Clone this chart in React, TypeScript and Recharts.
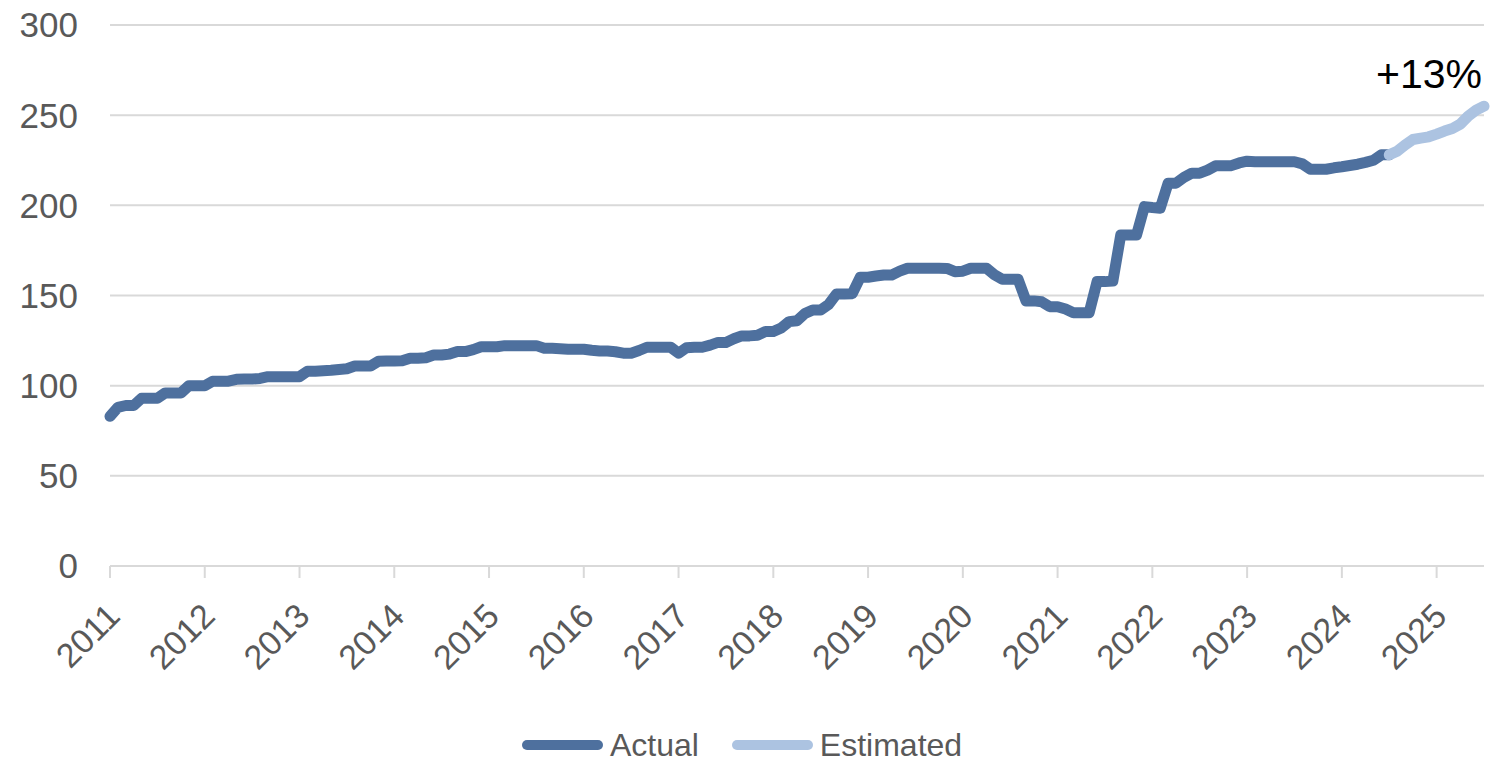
import React from 'react'
import { LineChart, Line, XAxis, YAxis, CartesianGrid, Legend } from 'recharts'

// monthly index, January 2011 = 0
const years = ['2011', '2012', '2013', '2014', '2015', '2016', '2017', '2018', '2019', '2020', '2021', '2022', '2023', '2024', '2025']

const actual = [
  83, 88, 89, 89, 93, 93, 93, 96, 96, 96, 100, 100, 100, 102.5, 102.5, 102.5, 103.5, 103.7, 103.7, 104,
  105, 105, 105, 105, 105, 108, 108, 108.3, 108.5, 109,
  109.4, 110.9, 110.9, 110.9, 113.5, 113.7, 113.7, 113.8, 115.2, 115.2, 115.5, 117, 117, 117.5, 118.9, 118.9,
  120, 121.6, 121.6, 121.6, 122.2, 122.2, 122.2, 122.2, 122.2, 120.8, 120.7, 120.5,
  120.2, 120.2, 120.2, 119.6, 119.2, 119.2, 118.8, 118, 118, 119.5, 121.3, 121.3, 121.3, 121.3, 118, 121,
  121.3, 121.3, 122.5, 124, 124, 126, 127.6, 127.6, 128, 130, 130, 132, 135.5, 136,
  140, 142, 142, 145, 150.8, 150.8, 151, 160.1, 160.1, 160.8, 161.4, 161.4, 163.5, 165.1, 165.1, 165.1,
  165.1, 165.1, 165, 163.2, 163.5, 165.1, 165.1, 165.1, 161.5, 159, 159, 159, 147,
  147, 146.5, 143.8, 143.8, 142.5, 140.5, 140.5, 140.5, 157.7, 157.7, 158, 183.6, 183.6, 183.6, 199.3,
  198.8, 198.4, 212.3, 212.3, 215.5, 217.8, 217.8, 219.5, 221.9, 221.9, 222, 223.5, 224.5, 224.2,
  224.2, 224.2, 224.2, 224.2, 224.2, 223, 220, 220, 220, 220.8, 221.4, 222.1, 222.8, 223.8, 225, 228, 228,
]

// starts at the last actual month (July 2024)
const estimated = [228, 230, 233.5, 236.5, 237.3, 238, 239.5, 241.2, 242.6, 245, 249.5, 252.8, 255]

const yTicks = [0, 50, 100, 150, 200, 250, 300]
const growthLabel = '+13%'

const FONT = '"Liberation Sans", Arial, sans-serif'
const ACTUAL_COLOR = '#4E709E'
const ESTIMATED_COLOR = '#ACC3E1'
const GRID_COLOR = '#D9D9D9'
const TEXT_COLOR = '#595959'

const joinIndex = actual.length - 1
const lastIndex = joinIndex + estimated.length - 1

const data = Array.from({ length: lastIndex + 1 }, (_, t) => ({
  t,
  actual: t <= joinIndex ? actual[t] : null,
  estimated: t >= joinIndex ? estimated[t - joinIndex] : null,
}))

const yearTicks = years.map((_, k) => k * 12)

const YearTick = (props: any) => {
  const { x, y, payload } = props
  const bx = x + 12
  const by = y + 40
  return (
    <text
      x={bx}
      y={by}
      textAnchor="end"
      fill={TEXT_COLOR}
      fontSize={34}
      fontFamily={FONT}
      transform={`rotate(-45 ${bx} ${by})`}
    >
      {years[Math.round(payload.value / 12)]}
    </text>
  )
}

const GrowthLabel = (props: any) => {
  const { x, y, index } = props
  if (index !== lastIndex) return null
  return (
    <text x={x - 2} y={y - 18} textAnchor="end" fontSize={41} fontFamily={FONT} fill="#000">
      {growthLabel}
    </text>
  )
}

const LegendContent = (props: any) => {
  const { payload = [] } = props
  return (
    <div
      style={{
        display: 'flex',
        justifyContent: 'center',
        alignItems: 'center',
        height: 34,
        fontFamily: FONT,
        fontSize: 32,
        color: TEXT_COLOR,
      }}
    >
      {payload.map((item: any, i: number) => (
        <div
          key={item.value}
          style={{ display: 'flex', alignItems: 'center', marginRight: i < payload.length - 1 ? 33 : 0 }}
        >
          <span
            style={{ display: 'inline-block', width: 81, height: 10, borderRadius: 5, background: item.color, marginRight: 7 }}
          />
          <span>{item.value}</span>
        </div>
      ))}
    </div>
  )
}

const App: React.FC = () => {
  return (
    <div style={{ position: 'absolute', left: 0, top: 0 }}>
      <LineChart width={1493} height={762} data={data} margin={{ top: 25, right: 9, bottom: 0, left: 0 }}>
        <CartesianGrid vertical={false} stroke={GRID_COLOR} strokeWidth={2} />
        <XAxis
          dataKey="t"
          type="number"
          domain={[0, lastIndex]}
          ticks={yearTicks}
          interval={0}
          height={162}
          tickSize={12}
          tickMargin={0}
          stroke={GRID_COLOR}
          strokeWidth={2}
          tick={<YearTick />}
        />
        <YAxis
          domain={[0, 300]}
          ticks={yTicks}
          width={110}
          axisLine={false}
          tickLine={false}
          tickMargin={26}
          tick={{ fill: TEXT_COLOR, fontSize: 35, fontFamily: FONT }}
        />
        <Legend verticalAlign="bottom" content={<LegendContent />} />
        <Line
          name="Actual"
          dataKey="actual"
          stroke={ACTUAL_COLOR}
          strokeWidth={11}
          strokeLinecap="round"
          strokeLinejoin="round"
          dot={false}
          activeDot={false}
          isAnimationActive={false}
        />
        <Line
          name="Estimated"
          dataKey="estimated"
          stroke={ESTIMATED_COLOR}
          strokeWidth={11}
          strokeLinecap="round"
          strokeLinejoin="round"
          dot={false}
          activeDot={false}
          isAnimationActive={false}
          label={<GrowthLabel />}
        />
      </LineChart>
    </div>
  )
}

export default App
